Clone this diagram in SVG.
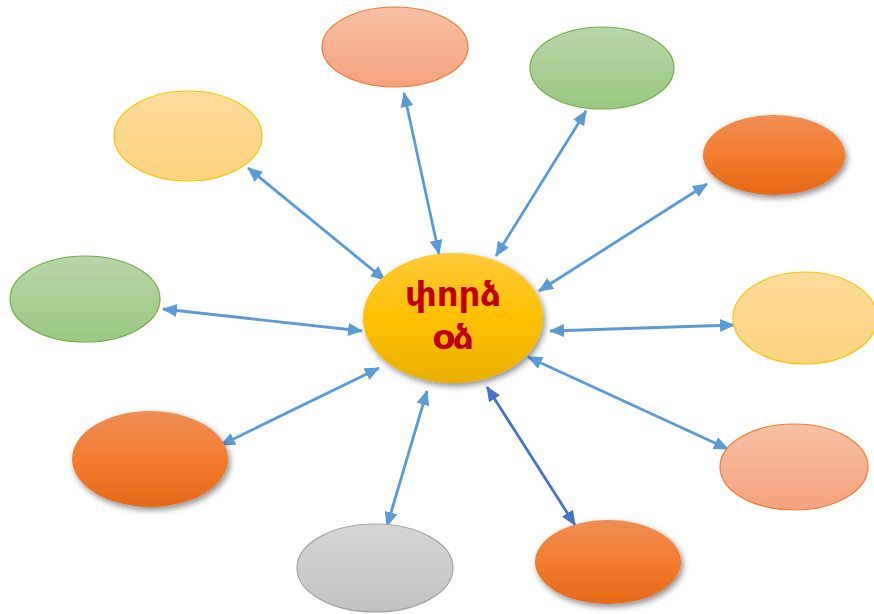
<svg xmlns="http://www.w3.org/2000/svg" width="874" height="614" viewBox="0 0 874 614">
<defs>
  <linearGradient id="gPink" x1="0" y1="0" x2="0" y2="1">
    <stop offset="0" stop-color="#F7C0A4"/><stop offset="1" stop-color="#F4A27E"/>
  </linearGradient>
  <linearGradient id="gGreen" x1="0" y1="0" x2="0" y2="1">
    <stop offset="0" stop-color="#B6D6A7"/><stop offset="1" stop-color="#9BC882"/>
  </linearGradient>
  <linearGradient id="gOrange" x1="0" y1="0" x2="0" y2="1">
    <stop offset="0" stop-color="#F08E55"/><stop offset="0.5" stop-color="#F27C2E"/><stop offset="1" stop-color="#E46A19"/>
  </linearGradient>
  <linearGradient id="gYellow" x1="0" y1="0" x2="0" y2="1">
    <stop offset="0" stop-color="#FEDC9C"/><stop offset="1" stop-color="#FDD47F"/>
  </linearGradient>
  <linearGradient id="gGray" x1="0" y1="0" x2="0" y2="1">
    <stop offset="0" stop-color="#D6D6D6"/><stop offset="1" stop-color="#C2C2C2"/>
  </linearGradient>
  <linearGradient id="gCenter" x1="0" y1="0" x2="0" y2="1">
    <stop offset="0" stop-color="#FFCA3A"/><stop offset="0.5" stop-color="#FFC000"/><stop offset="1" stop-color="#E9B000"/>
  </linearGradient>
  <filter id="shadow" x="-20%" y="-20%" width="140%" height="150%">
    <feDropShadow dx="2" dy="3" stdDeviation="3" flood-color="#000" flood-opacity="0.45"/>
  </filter>
  <marker id="ah" viewBox="0 0 15 13" refX="14" refY="6.5" markerWidth="15" markerHeight="13" markerUnits="userSpaceOnUse" orient="auto-start-reverse">
    <path d="M0,0 L15,6.5 L0,13 z" fill="#5B9BD5"/>
  </marker>
  <marker id="ahDark" viewBox="0 0 15 13" refX="14" refY="6.5" markerWidth="15" markerHeight="13" markerUnits="userSpaceOnUse" orient="auto-start-reverse">
    <path d="M0,0 L15,6.5 L0,13 z" fill="#4472C4"/>
  </marker>
  <style>
    .pink{fill:url(#gPink);stroke:#ED7D31;stroke-width:1.2}
    .green{fill:url(#gGreen);stroke:#70AD47;stroke-width:1.2}
    .yellow{fill:url(#gYellow);stroke:#FFC000;stroke-width:1.2}
    .gray{fill:url(#gGray);stroke:#A5A5A5;stroke-width:1.2}
    .orange{fill:url(#gOrange);filter:url(#shadow)}
    .center{fill:url(#gCenter);filter:url(#shadow)}
    .conn{stroke:#5B9BD5;stroke-width:2.8;fill:none;marker-start:url(#ah);marker-end:url(#ah)}
    .conn.dark{stroke:#4472C4;marker-start:url(#ahDark);marker-end:url(#ahDark)}
    .label{font-family:"DejaVu Sans","Noto Sans",sans-serif;font-weight:bold;font-size:34px;fill:#C00000;text-anchor:middle}
  </style>
</defs>
<rect width="874" height="614" fill="#FFFFFF"/>
<g id="connectors">
  <line class="conn" x1="439" y1="254" x2="404" y2="93"/>
  <line class="conn" x1="496" y1="256" x2="586" y2="111"/>
  <line class="conn" x1="539" y1="291" x2="707" y2="184"/>
  <line class="conn" x1="550" y1="331" x2="734" y2="325"/>
  <line class="conn" x1="528" y1="357" x2="728" y2="449"/>
  <line class="conn dark" x1="487" y1="387" x2="575" y2="525"/>
  <line class="conn" x1="427" y1="391" x2="387" y2="526"/>
  <line class="conn" x1="379" y1="368" x2="221" y2="445"/>
  <line class="conn" x1="362" y1="331" x2="163" y2="309"/>
  <line class="conn" x1="385" y1="280" x2="248" y2="168"/>
</g>
<g id="node-top"><ellipse class="pink" cx="395" cy="47" rx="73" ry="40"/></g>
<g id="node-top-right"><ellipse class="green" cx="602" cy="68" rx="72" ry="41"/></g>
<g id="node-right-upper"><ellipse class="orange" cx="774" cy="155" rx="71" ry="40"/></g>
<g id="node-right"><ellipse class="yellow" cx="805" cy="318" rx="72" ry="46"/></g>
<g id="node-right-lower"><ellipse class="pink" cx="794" cy="467" rx="74" ry="43"/></g>
<g id="node-bottom-right"><ellipse class="orange" cx="608" cy="562" rx="73" ry="42"/></g>
<g id="node-bottom"><ellipse class="gray" cx="375" cy="568" rx="78" ry="44"/></g>
<g id="node-left-lower"><ellipse class="orange" cx="150" cy="459" rx="78" ry="48"/></g>
<g id="node-left"><ellipse class="green" cx="85" cy="299" rx="75" ry="43"/></g>
<g id="node-top-left"><ellipse class="yellow" cx="188" cy="136" rx="74" ry="45"/></g>
<g id="node-center">
  <ellipse class="center" cx="453" cy="318" rx="90" ry="65"/>
  <text class="label" x="453" y="306">փորձ</text>
  <text class="label" x="453" y="349">օձ</text>
</g>
</svg>
